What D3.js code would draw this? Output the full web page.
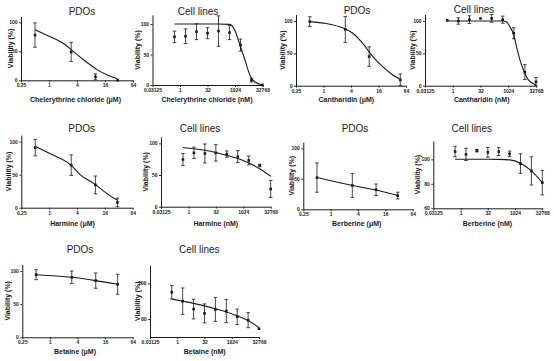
<!DOCTYPE html>
<html>
<head>
<meta charset="utf-8">
<script src="https://cdn.jsdelivr.net/npm/d3@7"></script>
<style>
  body { margin: 0; background: #fff; }
  svg { display: block; }
  text { font-family: Arial, "Liberation Sans", sans-serif; fill: #1a1a1a; }
</style>
</head>
<body>
<svg width="554" height="361"></svg>
<script>
// Doses
const pdoDose = [0.5, 3, 10, 30]
const canthPdoDose = [0.5, 3, 10, 48]
const cellDose = [0.5, 2, 8, 32, 128, 512, 2048, 8192, 32768]

// Tick values
const pdoTicks = [0.25, 1, 4, 16, 64]
const cellTicks = [0.03125, 1, 32, 1024, 32768]
const yTicks100 = [0, 50, 100]
const yTicksBerb = [60, 80, 100]
const yTicksBet = [80, 100]

// Chelerythrine chloride
const chelPdoMean = [78, 49, 6, 0]
const chelPdoErr = [21, 16.5, 5, 0]
const chelPdoFitX = [0.5, 1, 2, 3, 5.6, 11, 18, 30]
const chelPdoFitY = [87, 76, 64, 53, 35, 18, 9, 2.5]
const chelCellMean = [79, 80, 87.5, 85, 88.5, 86, 65.5, 8, 0]
const chelCellErr = [9.5, 12, 13, 9, 25, 11.5, 10, 3, 0]
const chelCellFitX = [0.5, 100, 534, 1000, 1900, 3600, 6700, 12500, 32768]
const chelCellFitY = [100, 100, 99.5, 90, 66, 41, 16, 5, 0.5]

// Cantharidin
const canthPdoMean = [99, 87, 45, 9]
const canthPdoErr = [7.5, 20, 15, 9]
const canthPdoFitX = [0.5, 1.16, 2.7, 4.4, 7.3, 12, 20, 33, 48]
const canthPdoFitY = [99, 96, 89, 81, 65, 45, 29, 16.5, 10]
const canthCellMean = [101, 100, 102, 104, 104, 102, 81, 21, 6]
const canthCellErr = [0, 5, 6, 0, 6, 5.5, 8.5, 11.5, 6.5]
const canthCellFitX = [0.5, 553, 838, 1260, 1910, 2900, 4400, 7330, 12600, 32768]
const canthCellFitY = [100, 100, 98.5, 91, 81, 60, 40, 22, 9, 1]

// Harmine
const harmPdoMean = [91, 64.5, 34.5, 8]
const harmPdoErr = [12.5, 15.5, 13.5, 6.5]
const harmPdoFitX = [0.52, 1.04, 2.95, 4.6, 9.85, 17.5, 29.3]
const harmPdoFitY = [92.5, 82, 64.6, 50.5, 35.3, 21.7, 11.6]
const harmCellMean = [74.5, 85, 84, 85, 83, 79, 73, 65, 28]
const harmCellErr = [9.5, 9, 15, 13, 5, 9.5, 7, 2, 13.5]
const harmCellFitY = [93.5, 91.5, 89, 85.5, 81, 76, 69, 60, 48]

// Berberine
const berbPdoMean = [52, 39, 32, 22.5]
const berbPdoErr = [24, 19.5, 9.5, 5.5]
const berbPdoFitY = [52, 39, 31.5, 22.5]
const berbCellMean = [106.3, 104, 107, 105.7, 106.3, 104.4, 96.5, 90.5, 81]
const berbCellErr = [4.3, 5, 1, 4, 3.2, 2.3, 8, 11.5, 10]
const berbCellFitY = [100, 100, 100, 100, 99.9, 99.5, 96.8, 90.5, 81]

// Betaine
const betPdoMean = [94.5, 90.5, 85.5, 80]
const betPdoErr = [7.5, 9.5, 11.5, 15]
const betPdoFitY = [94.5, 90.5, 85.5, 80]
const betCellMean = [95, 90, 85.6, 83.2, 85.4, 84.5, 81.3, 79.4, 74.6]
const betCellErr = [3.7, 7.4, 5.5, 5.3, 6.7, 6.5, 4.3, 4.2, 0]
const betCellFitY = [91.2, 90, 88.8, 87.4, 85.8, 84, 81.8, 79.2, 75.2]

const panels = [
  { title: 'PDOs', xLabel: 'Chelerythrine chloride (\u03bcM)', dose: pdoDose, mean: chelPdoMean, err: chelPdoErr,
    fitX: chelPdoFitX, fitY: chelPdoFitY, xTicks: pdoTicks, yDomain: [0, 110], yTicks: yTicks100 },
  { title: 'Cell lines', xLabel: 'Chelerythrine chloride (nM)', dose: cellDose, mean: chelCellMean, err: chelCellErr,
    fitX: chelCellFitX, fitY: chelCellFitY, xTicks: cellTicks, yDomain: [0, 115], yTicks: yTicks100 },
  { title: 'PDOs', xLabel: 'Cantharidin (\u03bcM)', dose: canthPdoDose, mean: canthPdoMean, err: canthPdoErr,
    fitX: canthPdoFitX, fitY: canthPdoFitY, xTicks: pdoTicks, yDomain: [0, 110], yTicks: yTicks100 },
  { title: 'Cell lines', xLabel: 'Cantharidin (nM)', dose: cellDose, mean: canthCellMean, err: canthCellErr,
    fitX: canthCellFitX, fitY: canthCellFitY, xTicks: cellTicks, yDomain: [0, 110], yTicks: yTicks100 },
  { title: 'PDOs', xLabel: 'Harmine (\u03bcM)', dose: pdoDose, mean: harmPdoMean, err: harmPdoErr,
    fitX: harmPdoFitX, fitY: harmPdoFitY, xTicks: pdoTicks, yDomain: [0, 110], yTicks: yTicks100 },
  { title: 'Cell lines', xLabel: 'Harmine (nM)', dose: cellDose, mean: harmCellMean, err: harmCellErr,
    fitX: cellDose, fitY: harmCellFitY, xTicks: cellTicks, yDomain: [0, 110], yTicks: yTicks100 },
  { title: 'PDOs', xLabel: 'Berberine (\u03bcM)', dose: pdoDose, mean: berbPdoMean, err: berbPdoErr,
    fitX: pdoDose, fitY: berbPdoFitY, xTicks: pdoTicks, yDomain: [0, 110], yTicks: yTicks100 },
  { title: 'Cell lines', xLabel: 'Berberine (nM)', dose: cellDose, mean: berbCellMean, err: berbCellErr,
    fitX: cellDose, fitY: berbCellFitY, xTicks: cellTicks, yDomain: [60, 115], yTicks: yTicksBerb },
  { title: 'PDOs', xLabel: 'Betaine (\u03bcM)', dose: pdoDose, mean: betPdoMean, err: betPdoErr,
    fitX: pdoDose, fitY: betPdoFitY, xTicks: pdoTicks, yDomain: [0, 110], yTicks: yTicks100 },
  { title: 'Cell lines', xLabel: 'Betaine (nM)', dose: cellDose, mean: betCellMean, err: betCellErr,
    fitX: cellDose, fitY: betCellFitY, xTicks: cellTicks, yDomain: [70, 110], yTicks: yTicksBet }
]

// where each small plot sits on the page
const layout = [
  { x0: 21, x1: 133, yb: 80.3, yt: 16.5, tx: 82, ty: 11, lx: 75.5, ly: 99.3, yl: 10 },
  { x0: 152.5, x1: 262.5, yb: 85, yt: 14.9, tx: 198, ty: 11, lx: 207, ly: 99.3, yl: 137 },
  { x0: 296, x1: 406, yb: 85.7, yt: 14.5, tx: 357, ty: 10, lx: 346.3, ly: 99.3, yl: 282 },
  { x0: 425, x1: 536, yb: 85.7, yt: 14.5, tx: 474, ty: 9.5, lx: 481.7, ly: 99.3, yl: 412 },
  { x0: 21.3, x1: 132.7, yb: 207.7, yt: 135.1, tx: 81.7, ty: 128.3, lx: 72.5, ly: 223.3, yl: 8.3 },
  { x0: 161, x1: 270.7, yb: 206.7, yt: 137, tx: 200, ty: 128.3, lx: 215.8, ly: 223.3, yl: 145 },
  { x0: 303.3, x1: 412.7, yb: 209.3, yt: 142.2, tx: 355, ty: 128.3, lx: 356.7, ly: 223.3, yl: 291 },
  { x0: 433.3, x1: 542.3, yb: 208.3, yt: 140.9, tx: 471.7, ty: 128.3, lx: 487.5, ly: 223.3, yl: 417 },
  { x0: 22.3, x1: 132.7, yb: 337.3, yt: 264.4, tx: 80, ty: 249.3, lx: 75, ly: 351.7, yl: 7.3 },
  { x0: 150, x1: 259, yb: 337, yt: 265.4, tx: 199.3, ty: 249.3, lx: 204.7, ly: 351.7, yl: 137 }
]

const ink = '#1a1a1a'
const svg = d3.select('svg')

const drawPanel = (p, L) => {
  const g = svg.append('g')

  const xScale = d3.scaleLog().base(2)
    .domain([p.xTicks[0], p.xTicks[p.xTicks.length - 1]])
    .range([L.x0, L.x1])
  const yScale = d3.scaleLinear().domain(p.yDomain).range([L.yb, L.yt])

  // axes
  const xAxis = d3.axisBottom(xScale)
    .tickValues(p.xTicks)
    .tickFormat((d) => String(d))
    .tickSize(2)
    .tickSizeOuter(0)
    .tickPadding(1.5)
  const yAxis = d3.axisLeft(yScale)
    .tickValues(p.yTicks)
    .tickFormat((d) => String(d))
    .tickSize(2)
    .tickSizeOuter(0)
    .tickPadding(1.5)

  const xg = g.append('g').attr('transform', `translate(0, ${L.yb})`).call(xAxis)
  const yg = g.append('g').attr('transform', `translate(${L.x0}, 0)`).call(yAxis)

  ;[xg, yg].forEach((a) => {
    a.select('.domain').attr('stroke', ink).attr('stroke-width', 1)
    a.selectAll('.tick line').attr('stroke', ink).attr('stroke-width', 0.9)
    a.selectAll('.tick text')
      .style('font-size', '5px')
      .style('font-weight', 'bold')
      .attr('fill', ink)
  })

  // fitted curve
  const fitPts = p.fitX.map((x, i) => [x, p.fitY[i]])
  const fitLine = d3.line()
    .x((d) => xScale(d[0]))
    .y((d) => yScale(d[1]))
    .curve(d3.curveMonotoneX)

  g.append('path')
    .attr('d', fitLine(fitPts))
    .attr('fill', 'none')
    .attr('stroke', ink)
    .attr('stroke-width', 1.1)

  // error bars
  const pts = p.dose.map((x, i) => ({ x: x, m: p.mean[i], e: p.err[i] }))
  const bars = g.selectAll('g.bar')
    .data(pts.filter((d) => d.e > 0))
    .enter()
    .append('g')
    .attr('class', 'bar')
    .attr('stroke', ink)
    .attr('stroke-width', 0.8)

  bars.append('line')
    .attr('x1', (d) => xScale(d.x))
    .attr('x2', (d) => xScale(d.x))
    .attr('y1', (d) => yScale(d.m + d.e))
    .attr('y2', (d) => yScale(Math.max(p.yDomain[0], d.m - d.e)))
  bars.append('line')
    .attr('x1', (d) => xScale(d.x) - 1.8)
    .attr('x2', (d) => xScale(d.x) + 1.8)
    .attr('y1', (d) => yScale(d.m + d.e))
    .attr('y2', (d) => yScale(d.m + d.e))
  bars.append('line')
    .attr('x1', (d) => xScale(d.x) - 1.8)
    .attr('x2', (d) => xScale(d.x) + 1.8)
    .attr('y1', (d) => yScale(Math.max(p.yDomain[0], d.m - d.e)))
    .attr('y2', (d) => yScale(Math.max(p.yDomain[0], d.m - d.e)))

  // mean markers
  g.selectAll('rect.pt')
    .data(pts)
    .enter()
    .append('rect')
    .attr('class', 'pt')
    .attr('x', (d) => xScale(d.x) - 1.3)
    .attr('y', (d) => yScale(d.m) - 1.3)
    .attr('width', 2.6)
    .attr('height', 2.6)
    .attr('fill', ink)

  // texts
  g.append('text')
    .attr('x', L.tx)
    .attr('y', L.ty)
    .attr('text-anchor', 'middle')
    .attr('dominant-baseline', 'central')
    .style('font-size', '10px')
    .text(p.title)

  g.append('text')
    .attr('x', L.lx)
    .attr('y', L.ly)
    .attr('text-anchor', 'middle')
    .attr('dominant-baseline', 'central')
    .style('font-size', '7px')
    .style('font-weight', 'bold')
    .text(p.xLabel)

  g.append('text')
    .attr('transform', `translate(${L.yl}, ${(L.yb + L.yt) / 2}) rotate(-90)`)
    .attr('text-anchor', 'middle')
    .attr('dominant-baseline', 'central')
    .style('font-size', '7px')
    .style('font-weight', 'bold')
    .text('Viability (%)')
}

panels.forEach((p, i) => drawPanel(p, layout[i]))
</script>
</body>
</html>
